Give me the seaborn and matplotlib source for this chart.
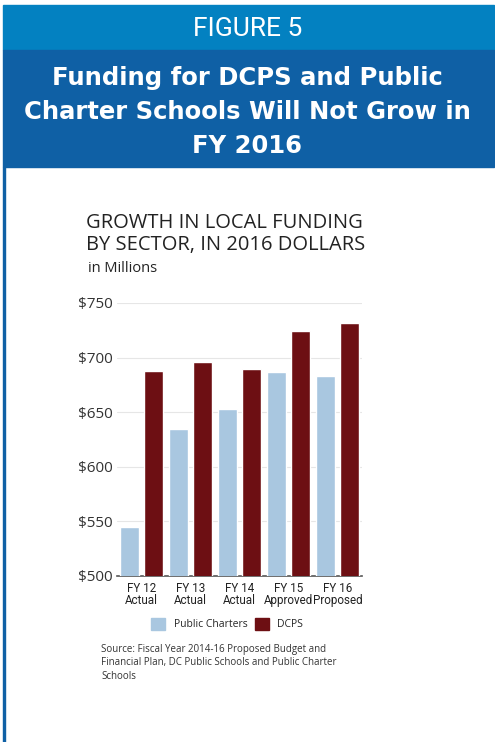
import matplotlib.pyplot as plt
import matplotlib.patches as mpatches
import pandas as pd
import seaborn as sns

# Dados (milhões de dólares de 2016)
anos = ['FY 12\nActual', 'FY 13\nActual', 'FY 14\nActual', 'FY 15\nApproved', 'FY 16\nProposed']
charters = [545, 635, 653, 687, 683]
dcps = [688, 696, 690, 724, 732]
setores = ['Public Charters', 'DCPS']
cores = ['#a9c7e0', '#6d0f13']
ticks_y = [500, 550, 600, 650, 700, 750]

df = pd.DataFrame({
    'Ano': anos * 2,
    'Valor': charters + dcps,
    'Setor': [setores[0]] * len(anos) + [setores[1]] * len(anos),
})

sns.set_style('white')
plt.rcParams['font.family'] = ['Open Sans', 'DejaVu Sans']

fig = plt.figure(figsize=(4.95, 7.42), dpi=100)

# Faixas azuis do cabeçalho e borda esquerda
fig.patches.append(mpatches.Rectangle((3 / 495, 1 - 50 / 742), 491 / 495, 45 / 742,
                                      transform=fig.transFigure, color='#0381c1', zorder=0))
fig.patches.append(mpatches.Rectangle((3 / 495, 1 - 167 / 742), 491 / 495, 117 / 742,
                                      transform=fig.transFigure, color='#0f60a5', zorder=0))
fig.patches.append(mpatches.Rectangle((3 / 495, 0), 2 / 495, 1 - 167 / 742,
                                      transform=fig.transFigure, color='#0f60a5', zorder=0))

fig.text(0.5, 1 - 29 / 742, 'FIGURE 5', ha='center', va='center', color='white',
         fontsize=19, family='Roboto')
fig.text(0.5, 1 - 112 / 742, 'Funding for DCPS and Public\nCharter Schools Will Not Grow in\nFY 2016',
         ha='center', va='center', color='white', fontsize=17.5, family='DejaVu Sans',
         fontweight='bold', linespacing=1.52)

# Título do gráfico
fig.text(86 / 495, 1 - 234 / 742, 'GROWTH IN LOCAL FUNDING\nBY SECTOR, IN 2016 DOLLARS',
         ha='left', va='center', color='#222222', fontsize=14.5, linespacing=1.12)
fig.text(88 / 495, 1 - 268 / 742, 'in Millions', ha='left', va='center', color='#222222', fontsize=10.5)

# Eixo do gráfico de barras
ax = fig.add_axes([117 / 495, 1 - 576 / 742, 245 / 495, 273 / 742])
sns.barplot(data=df, x='Ano', y='Valor', hue='Setor', palette=cores, width=0.97, gap=0.22,
            ax=ax, legend=False, saturation=1, zorder=3)
ax.set_ylim(500, 750)
ax.set_xlim(-0.5, 4.5)
ax.set_yticks(ticks_y)
ax.set_yticklabels([f'${v}' for v in ticks_y], fontsize=11, color='#333333')
ax.tick_params(axis='x', colors='#222222', pad=4, length=0)
ax.tick_params(axis='y', length=0, pad=3)
for t in ax.get_xticklabels():
    t.set_linespacing(0.95)
    t.set_family('Roboto')
    t.set_fontsize(8.4)
ax.set_xlabel('')
ax.set_ylabel('')
ax.grid(axis='y', color='#e6e6e6', linewidth=0.8, zorder=0)
ax.set_axisbelow(True)
for lado in ['top', 'right', 'left']:
    ax.spines[lado].set_visible(False)
ax.spines['bottom'].set_color('#555555')
ax.spines['bottom'].set_linewidth(1.2)

# Legenda
handles = [mpatches.Patch(color=c, label=s) for c, s in zip(cores, setores)]
fig.legend(handles=handles, loc='center', bbox_to_anchor=(227 / 495, 1 - 624 / 742), ncol=2,
           frameon=False, fontsize=7.5, handlelength=1.35, handleheight=1.35, columnspacing=0.7,
           handletextpad=0.85)

# Fonte
fig.text(101 / 495, 1 - 663 / 742,
         'Source: Fiscal Year 2014-16 Proposed Budget and\nFinancial Plan, DC Public Schools and Public Charter\nSchools',
         ha='left', va='center', color='#333333', fontsize=7, linespacing=1.35)

fig.savefig('out.png', dpi=100)
